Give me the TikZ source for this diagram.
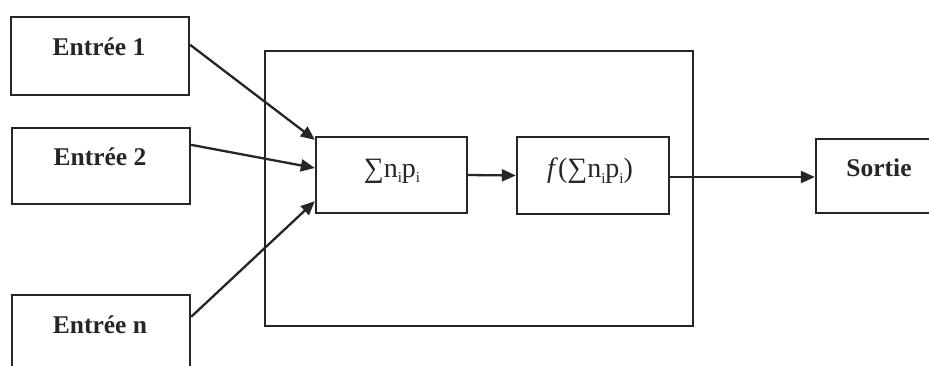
\documentclass[tikz,border=0pt]{standalone}
\usepackage{fontspec}
\setmainfont{Liberation Serif}
\usetikzlibrary{arrows.meta,calc}
\definecolor{ink}{HTML}{262626}
\newcommand{\sbi}{\raisebox{-0.2em}{\fontsize{15}{15}\selectfont i}}
\begin{document}
\begin{tikzpicture}[x=1pt,y=-1pt,
  box/.style={draw=ink,line width=2.3pt,inner sep=0pt},
  lbl/.style={text=ink,font=\fontsize{25.5}{25.5}\selectfont\bfseries,inner sep=0pt},
  mth/.style={text=ink,font=\fontsize{28}{28}\selectfont,inner sep=0pt},
  arr/.style={draw=ink,line width=2.3pt,-{Triangle[length=14pt,width=12pt]}}]
\path[use as bounding box,clip] (0,0) rectangle (929,365);
\fill[white] (0,0) rectangle (929,365);
% outer box
\node[box,minimum width=428,minimum height=275] (big) at (479,188.5) {};
% inputs
\node[box,minimum width=178,minimum height=78] (e1) at (100,56) {};
\node[lbl] (e1t) at (99,47) {Entrée 1};
\node[box,minimum width=178,minimum height=76] (e2) at (101,166) {};
\node[lbl] (e2t) at (100,157) {Entrée 2};
\node[box,minimum width=178,minimum height=80] (en) at (101,335) {};
\node[lbl] (ent) at (100,325) {Entrée n};
% inner boxes
\node[box,minimum width=151,minimum height=76] (sum) at (391.5,175) {};
\node[mth] (sumt) at (392,171) {∑n\sbi p\sbi};
\node[box,minimum width=152,minimum height=77] (f) at (593,175.5) {};
\node[mth] (ft) at (590,171) {\textit{f}(∑n\sbi p\sbi)};
% output
\node[box,minimum width=126,minimum height=74] (out) at (879,176) {};
\node[lbl] (outt) at (879,168) {Sortie};
% connectors
\draw[arr] ($(e1.north east)+(0,29)$) -- ($(sum.north west)+(0,4)$);
\draw[arr] ($(e2.north east)+(0,18)$) -- ($(sum.west)+(0,-7)$);
\draw[arr] ($(en.north east)+(0,23)$) -- ($(sum.south west)+(0,-13)$);
\draw[arr] (sum.east) -- (f.west);
\draw[arr] ($(f.east)+(0,1.5)$) -- ($(out.west)+(0,1)$);
\end{tikzpicture}
\end{document}
